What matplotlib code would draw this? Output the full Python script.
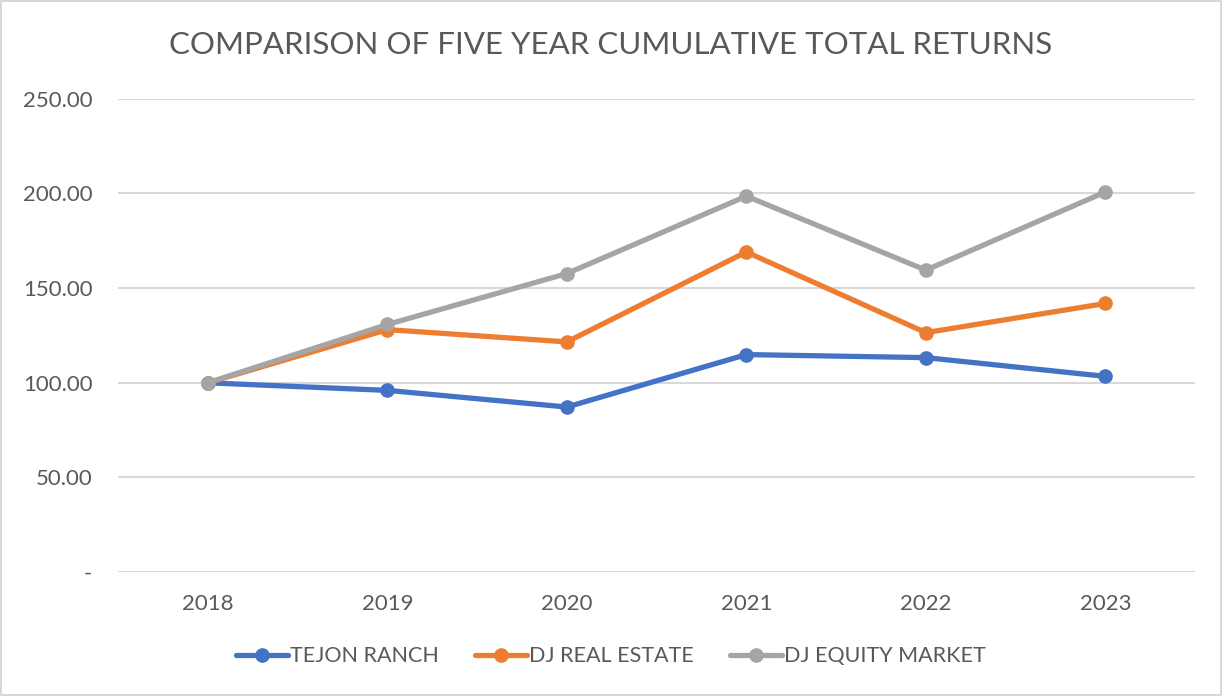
"""Five-year cumulative total return comparison (Excel-style line chart)."""
import matplotlib.pyplot as plt
from matplotlib.patches import Rectangle
from matplotlib.ticker import FuncFormatter

plt.rcParams["font.family"] = ["Lato", "DejaVu Sans"]

years = ["2018", "2019", "2020", "2021", "2022", "2023"]
tejon_ranch = [100.0, 96.0, 87.2, 114.9, 113.3, 103.4]
dj_real_estate = [100.0, 128.1, 121.6, 169.1, 126.5, 141.9]
dj_equity_market = [100.0, 130.8, 157.7, 198.6, 159.5, 200.8]

y_ticks = [0, 50, 100, 150, 200, 250]

# label -> (values, colour); drawn in this order so grey sits on top
SERIES = [
    ("TEJON RANCH", tejon_ranch, "#4472C4"),
    ("DJ REAL ESTATE", dj_real_estate, "#ED7D31"),
    ("DJ EQUITY MARKET", dj_equity_market, "#A5A5A5"),
]

TEXT = "#595959"
GRID = "#D9D9D9"


def fmt_tick(v, _pos):
    # Excel accounting format shows zero as a dash
    return "-" if abs(v) < 1e-9 else f"{v:,.2f}"


fig = plt.figure(figsize=(12.22, 6.96), dpi=100)
ax = fig.add_axes([0.0966, 0.178, 0.8814, 0.680])

x = range(len(years))
for label, values, colour in SERIES:
    ax.plot(x, values, color=colour, linewidth=3.8, marker="o", markersize=9.5,
            label=label, solid_capstyle="round")

ax.set_xlim(-0.5, len(years) - 0.5)
ax.set_ylim(0, 250)
ax.set_yticks(y_ticks)
ax.yaxis.set_major_formatter(FuncFormatter(fmt_tick))
ax.set_xticks(list(x))
ax.set_xticklabels(years)
ax.grid(axis="y", color=GRID, linewidth=1.5)
ax.set_axisbelow(True)
for side in ax.spines.values():
    side.set_visible(False)
ax.tick_params(axis="both", length=0, labelsize=16, colors=TEXT)
ax.tick_params(axis="y", pad=18.5)
ax.tick_params(axis="x", pad=16)

fig.text(0.5, 0.935, "COMPARISON OF FIVE YEAR CUMULATIVE TOTAL RETURNS",
         ha="center", va="center", fontsize=22.5, color=TEXT)

leg = fig.legend(loc="center", bbox_to_anchor=(0.5, 0.057), ncol=3, frameon=False,
                 fontsize=15.5, handlelength=2.4, columnspacing=1.7, handletextpad=0.1)
for t in leg.get_texts():
    t.set_color(TEXT)

# light chart-area border
fig.patches.append(Rectangle((0.001, 0.001), 0.998, 0.998, transform=fig.transFigure,
                             fill=False, edgecolor="#D0D0D0", linewidth=1.2))

fig.savefig("out.png", dpi=100)
